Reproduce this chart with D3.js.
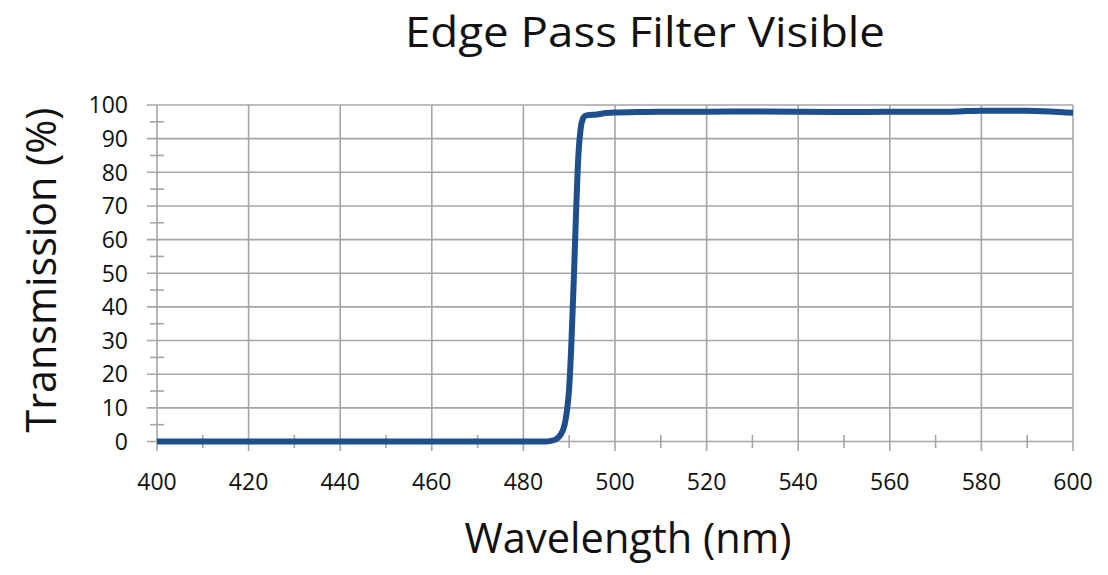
<!DOCTYPE html>
<html><head><meta charset="utf-8">
<script src="https://cdn.jsdelivr.net/npm/d3@7"></script>
<style>body{margin:0;background:#fff}svg{display:block}text{font-family:"Open Sans","Noto Sans",sans-serif;fill:#111}</style>
</head><body><svg id="c" width="1108" height="575"></svg>
<script>
const title = "Edge Pass Filter Visible";
const xLabel = "Wavelength (nm)";
const yLabel = "Transmission (%)";
const xTicks = [400,420,440,460,480,500,520,540,560,580,600];
const yTicks = [0,10,20,30,40,50,60,70,80,90,100];
const wavelengths = [400,450,485,486,487,488,489,489.5,490,490.5,491,491.5,492,492.5,493,493.5,494,496,498,500,505,510,520,530,540,550,560,570,575,580,590,595,600];
const transmission = [0,0,0,0.2,0.6,1.8,5,9,16,30,48,68,85,93,96,96.8,97,97.2,97.6,97.8,97.9,98,98,98.1,98,97.9,98,98,98.1,98.3,98.3,98.1,97.7];

const svg = d3.select("#c");
const x = d3.scaleLinear().domain([400,600]).range([157,1073]);
const y = d3.scaleLinear().domain([0,100]).range([441.5,105]);
const grid = "#a6a6a6";

svg.append("g").selectAll("line").data(yTicks).join("line")
  .attr("x1",147).attr("x2",x(600)).attr("y1",d=>y(d)).attr("y2",d=>y(d))
  .attr("stroke",grid).attr("stroke-width",1.6);
svg.append("g").selectAll("line").data(xTicks).join("line")
  .attr("x1",d=>x(d)).attr("x2",d=>x(d)).attr("y1",y(100)).attr("y2",451)
  .attr("stroke",grid).attr("stroke-width",1.6);
svg.append("g").selectAll("line").data(d3.range(5,100,10)).join("line")
  .attr("x1",150).attr("x2",164).attr("y1",d=>y(d)).attr("y2",d=>y(d))
  .attr("stroke",grid).attr("stroke-width",1.6);
svg.append("g").selectAll("line").data(d3.range(410,600,20)).join("line")
  .attr("x1",d=>x(d)).attr("x2",d=>x(d)).attr("y1",435).attr("y2",448)
  .attr("stroke",grid).attr("stroke-width",1.6);

svg.append("g").selectAll("text").data(yTicks).join("text")
  .attr("x",128).attr("y",d=>y(d)).attr("dy","0.36em").attr("text-anchor","end")
  .style("font-size","23px").text(d=>d);
svg.append("g").selectAll("text").data(xTicks).join("text")
  .attr("x",d=>x(d)).attr("y",490).attr("text-anchor","middle")
  .style("font-size","23px").text(d=>d);

const pts = wavelengths.map((w,i)=>[w,transmission[i]]);
svg.append("path").datum(pts)
  .attr("d", d3.line().x(d=>x(d[0])).y(d=>y(d[1])).curve(d3.curveMonotoneX))
  .attr("fill","none").attr("stroke","#1f4e8c").attr("stroke-width",6).attr("stroke-linejoin","round");

svg.append("text").attr("x",645).attr("y",47).attr("text-anchor","middle")
  .style("font-size","42px").attr("textLength",480).attr("lengthAdjust","spacingAndGlyphs").text(title);
svg.append("text").attr("x",628).attr("y",553).attr("text-anchor","middle")
  .style("font-size","42px").attr("textLength",327).attr("lengthAdjust","spacingAndGlyphs").text(xLabel);
svg.append("text").attr("transform","translate(56,270) rotate(-90)").attr("text-anchor","middle")
  .style("font-size","42px").attr("textLength",325).attr("lengthAdjust","spacingAndGlyphs").text(yLabel);
</script></body></html>
